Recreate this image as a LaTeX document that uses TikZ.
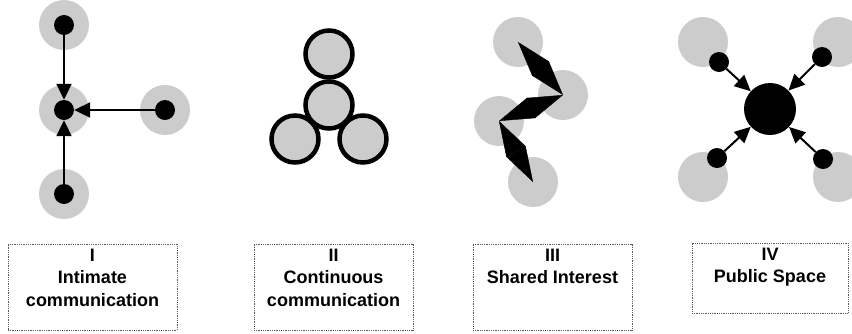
\documentclass[tikz,border=0pt]{standalone}
\usepackage{fontspec}
\newfontfamily\capfont{Liberation Sans}
\usetikzlibrary{arrows.meta,positioning}

\begin{document}
\begin{tikzpicture}[x=1pt, y=-1pt,
  halo/.style={circle, fill=softgray, minimum size=50pt, inner sep=0pt},
  dot/.style={circle, fill=black, minimum size=20pt, inner sep=0pt},
  ring/.style={circle, draw=black, fill=softgray, line width=4.5pt, minimum size=47pt, inner sep=0pt},
  hub/.style={circle, fill=black, minimum size=52pt, inner sep=0pt},
  link/.style={-{Triangle[length=16pt,width=15pt]}, line width=2pt},
  zig/.style={{Triangle[length=35pt,width=22pt]}-{Triangle[length=35pt,width=22pt]}, line width=0.4pt},
  capbox/.style={draw=gray!70!black, densely dotted, line width=0.8pt, inner sep=0pt},
  captext/.style={font=\capfont\bfseries\fontsize{18}{22.5}\selectfont, align=center, inner sep=0pt}]
  % Colors
  \definecolor{softgray}{RGB}{204,204,204}

  \useasboundingbox (0,0) rectangle (852,333);

  % I: intimate communication
  \node[halo] (hIa) at (64,25) {};
  \node[halo] (hIb) at (64,110) {};
  \node[halo] (hIc) at (165,110) {};
  \node[halo] (hId) at (64,194) {};
  \node[dot] (dIa) at (hIa) {};
  \node[dot] (dIb) at (hIb) {};
  \node[dot] (dIc) at (hIc) {};
  \node[dot] (dId) at (hId) {};
  \draw[link] (dIa) -- (dIb);
  \draw[link] (dIc) -- (dIb);
  \draw[link] (dId) -- (dIb);

  % II: continuous communication
  \node[ring] (rIIa) at (329,54) {};
  \node[ring] (rIIc) at (295,139) {};
  \node[ring] (rIId) at (363,139) {};
  \node[ring] (rIIb) at (329,105) {};

  % III: shared interest
  \node[halo] (hIIIa) at (518,42) {};
  \node[halo] (hIIIb) at (563,95) {};
  \node[halo] (hIIIc) at (499,121) {};
  \node[halo] (hIIId) at (533,182) {};
  \draw[zig] (hIIIa.center) -- (hIIIb.center);
  \draw[zig] (hIIIb.center) -- (hIIIc.center);
  \draw[zig] (hIIIc.center) -- (hIIId.center);

  % IV: public space
  \node[halo] (hIVa) at (703,42) {};
  \node[halo] (hIVb) at (838,42) {};
  \node[halo] (hIVc) at (703,177) {};
  \node[halo] (hIVd) at (838,177) {};
  \node[dot] (dIVa) at (719,62) {};
  \node[dot] (dIVb) at (822,57) {};
  \node[dot] (dIVc) at (717,158) {};
  \node[dot] (dIVd) at (823,159) {};
  \node[hub] (hub) at (770,109) {};
  \foreach \s in {a,b,c,d}
    \draw[link] (dIV\s) -- (hub);

  % Captions
  \node[capbox, minimum width=169pt, minimum height=86pt] (boxI) at (92.5,287) {};
  \node[capbox, minimum width=159pt, minimum height=86pt] (boxII) at (333.5,287) {};
  \node[capbox, minimum width=159pt, minimum height=86pt] (boxIII) at (552.5,287) {};
  \node[capbox, minimum width=156pt, minimum height=70pt] (boxIV) at (770,278) {};
  \node[captext, below=5pt of boxI.north] (txtI) {I\\Intimate\\communication};
  \node[captext, below=5pt of boxII.north] (txtII) {II\\Continuous\\communication};
  \node[captext, below=5pt of boxIII.north] (txtIII) {III\\Shared Interest};
  \node[captext, below=5pt of boxIV.north] (txtIV) {IV\\Public Space};
\end{tikzpicture}
\end{document}
